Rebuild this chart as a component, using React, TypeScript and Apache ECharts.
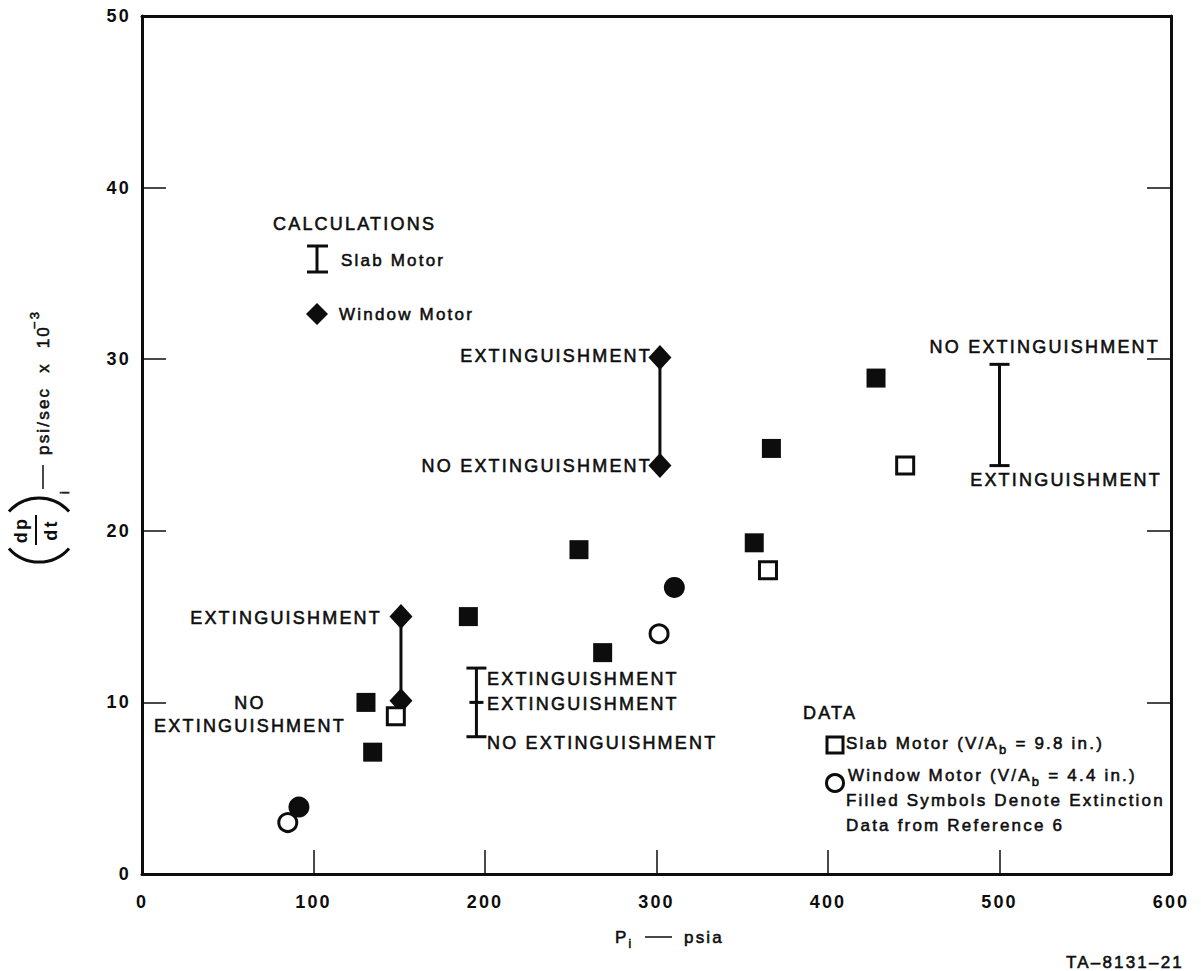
import React, { useEffect, useRef } from 'react';
import * as echarts from 'echarts';

// ---- axis ticks ----
const xTicks = [0, 100, 200, 300, 400, 500, 600];
const yTicks = [0, 10, 20, 30, 40, 50];

// ---- measured data: [P_i (psia), (dp/dt)_i x 10^-3 (psi/sec)] ----
// Slab motor (V/Ab = 9.8 in.)
const slabOpen: number[][] = [[148, 9.2], [365, 17.7], [445, 23.8]];
// Slab motor, extinction data from Reference 6 (filled)
const slabFilled: number[][] = [
  [130.6, 10.0], [134.5, 7.1], [190.3, 15.0], [254.8, 18.9],
  [268.6, 12.9], [357, 19.3], [367, 24.8], [428, 28.9],
];
// Window motor (V/Ab = 4.4 in.)
const windowOpen: number[][] = [[85, 3.0], [301.5, 14.0]];
// Window motor, extinction data from Reference 6 (filled)
const windowFilled: number[][] = [[91.5, 3.9], [310.4, 16.7]];

// Calculations, window motor: upper / lower diamond pairs
const windowCalc: number[][][] = [
  [[151, 15.0], [151, 10.1]],
  [[302, 30.1], [302, 23.8]],
];
// Calculations, slab motor: [P_i, low, high] with optional middle mark
const slabCalc: number[][] = [[195, 8.0, 12.0], [500, 23.8, 29.7]];
const slabCalcMid: (number | null)[] = [10.0, null];

const INK = '#0d0d0d';
const FONT = '"Liberation Sans", Arial, Helvetica, sans-serif';
const LS = 2.2;
const HEAVY = 0.55; // extra glyph stroke for a medium-weight look

let measureCtx: CanvasRenderingContext2D | null = null;
function textWidth(s: string, size: number): number {
  if (!measureCtx) measureCtx = document.createElement('canvas').getContext('2d');
  const c = measureCtx!;
  c.font = `${size}px ${FONT}`;
  return c.measureText(s).width + s.length * LS;
}

function txt(text: string, x: number, y: number, size: number, align = 'left', extra: any = {}) {
  return {
    type: 'text',
    silent: true,
    style: {
      text, x, y,
      fill: INK,
      stroke: INK,
      lineWidth: HEAVY,
      fontSize: size,
      fontFamily: FONT,
      align, verticalAlign: 'middle',
      textAlign: align, textVerticalAlign: 'middle',
      ...extra,
    },
  };
}

// lay out text runs one after another (for subscripts / superscripts)
type Run = { t: string; size: number; dy?: number; gap?: number };
function runs(x: number, y: number, parts: Run[]) {
  const out: any[] = [];
  let cx = x;
  for (const p of parts) {
    cx += p.gap || 0;
    out.push(txt(p.t, cx, y + (p.dy || 0), p.size));
    cx += textWidth(p.t, p.size);
  }
  return out;
}

export default function App() {
  const ref = useRef<HTMLDivElement>(null);

  useEffect(() => {
    const el = ref.current!;
    const chart = echarts.init(el, null, { renderer: 'svg' });

    const axisLine = { show: true, onZero: false, lineStyle: { color: INK, width: 3 } };
    const tick = { show: true, inside: true, length: 24, lineStyle: { color: INK, width: 1.5 } };
    const label = { color: INK, fontSize: 18, fontFamily: FONT, fontWeight: 'bold' as const };

    const big = 18; // upper-case annotations
    const sm = 17; // mixed-case text
    const line = (x1: number, y1: number, x2: number, y2: number, w = 3) => ({
      type: 'line', silent: true,
      shape: { x1, y1, x2, y2 },
      style: { stroke: INK, lineWidth: w },
    });

    // rotated y-axis title: ( dp/dt )_i — psi/sec x 10^-3
    const R = 40;
    const half = 0.85;
    const yTitle = {
      type: 'group', x: 43, y: 567, rotation: Math.PI / 2, silent: true,
      children: [
        { type: 'arc', shape: { cx: 5 + R, cy: -4, r: R, startAngle: Math.PI - half, endAngle: Math.PI + half }, style: { stroke: INK, lineWidth: 3, fill: 'none' } },
        { type: 'arc', shape: { cx: 69 - R, cy: -4, r: R, startAngle: -half, endAngle: half }, style: { stroke: INK, lineWidth: 3, fill: 'none' } },
        txt('dp', 37, -22, 18, 'center', { fontWeight: 'bold', lineWidth: 0 }),
        line(22, -7, 52, -7, 2),
        txt('dt', 37, 8, 18, 'center', { fontWeight: 'bold', lineWidth: 0 }),
        txt('i', 73, 22, 12, 'left'),
        line(78, 0, 102, 0, 1.5),
        txt('psi/sec  x  10', 112, 0, 17, 'left'),
        txt('\u22123', 238, -9, 13, 'left'),
      ],
    };

    const graphic: any[] = [
      yTitle,
      // x-axis title
      ...runs(615, 937, [
        { t: 'P', size: sm },
        { t: 'i', size: 12, dy: 7 },
      ]),
      line(645, 937, 672, 937, 1.5),
      txt('psia', 684, 937, sm),
      txt('TA\u20138131\u201321', 1184, 962, sm, 'right'),

      // calculations key
      txt('CALCULATIONS', 273, 224, big),
      line(317, 246, 317, 272),
      line(307, 246, 328, 246),
      line(307, 272, 328, 272),
      txt('Slab Motor', 341, 260, sm),
      { type: 'polygon', silent: true, shape: { points: [[317, 303], [328, 314], [317, 325], [306, 314]] }, style: { fill: INK } },
      txt('Window Motor', 339, 314, sm),

      // annotations on the calculated points
      txt('EXTINGUISHMENT', 652, 356, big, 'right'),
      txt('NO EXTINGUISHMENT', 652, 466, big, 'right'),
      txt('EXTINGUISHMENT', 382, 618, big, 'right'),
      txt('NO\nEXTINGUISHMENT', 250, 714, big, 'center', { lineHeight: 23 }),
      txt('EXTINGUISHMENT', 487, 679, big),
      txt('EXTINGUISHMENT', 487, 704, big),
      txt('NO EXTINGUISHMENT', 487, 743, big),
      txt('NO EXTINGUISHMENT', 1160, 347, big, 'right'),
      txt('EXTINGUISHMENT', 1162, 480, big, 'right'),

      // data key
      txt('DATA', 803, 713, big),
      { type: 'rect', silent: true, shape: { x: 827, y: 737, width: 16, height: 16 }, style: { fill: '#fff', stroke: INK, lineWidth: 3 } },
      ...runs(846, 743, [
        { t: 'Slab Motor (V/A', size: sm },
        { t: 'b', size: 13, dy: 6 },
        { t: '= 9.8 in.)', size: sm, gap: 7 },
      ]),
      { type: 'circle', silent: true, shape: { cx: 835, cy: 783, r: 8.5 }, style: { fill: '#fff', stroke: INK, lineWidth: 3 } },
      ...runs(848, 775, [
        { t: 'Window Motor (V/A', size: sm },
        { t: 'b', size: 13, dy: 6 },
        { t: '= 4.4 in.)', size: sm, gap: 7 },
      ]),
      txt('Filled Symbols Denote Extinction', 846, 800, sm),
      txt('Data from Reference 6', 846, 825, sm),
    ];

    const solid = { color: INK, opacity: 1 };
    const hollow = { color: '#fff', borderColor: INK, borderWidth: 3, opacity: 1 };

    const option: any = {
      animation: false,
      backgroundColor: '#fff',
      grid: { left: 142, top: 16, width: 1029, height: 858, containLabel: false },
      xAxis: [
        {
          type: 'value', position: 'bottom', min: 0, max: 600, interval: 100,
          axisLine, axisTick: tick, splitLine: { show: false },
          axisLabel: { ...label, margin: 19, formatter: (v: number) => String(xTicks[xTicks.indexOf(v)] ?? v) },
        },
        {
          type: 'value', position: 'top', min: 0, max: 600, interval: 100,
          axisLine, axisTick: { show: false }, axisLabel: { show: false }, splitLine: { show: false },
        },
      ],
      yAxis: [
        {
          type: 'value', position: 'left', min: 0, max: 50, interval: 10,
          axisLine, axisTick: tick, splitLine: { show: false },
          axisLabel: { ...label, margin: 11, formatter: (v: number) => String(yTicks[yTicks.indexOf(v)] ?? v) },
        },
        {
          type: 'value', position: 'right', min: 0, max: 50, interval: 10,
          axisLine, axisTick: tick, axisLabel: { show: false }, splitLine: { show: false },
        },
      ],
      series: [
        ...windowCalc.map((pair) => ({
          type: 'line', data: pair, symbol: 'diamond', symbolSize: [23, 25],
          lineStyle: { color: INK, width: 3, opacity: 1 }, itemStyle: solid, silent: true, z: 2,
        })),
        {
          type: 'custom', data: slabCalc, silent: true, z: 2,
          encode: { x: 0, y: [1, 2] },
          renderItem: (params: any, api: any) => {
            const x = api.value(0);
            const top = api.coord([x, api.value(2)]);
            const bot = api.coord([x, api.value(1)]);
            const style = { stroke: INK, lineWidth: 3, fill: 'none' };
            const cap = 10;
            const children: any[] = [
              { type: 'line', shape: { x1: top[0], y1: top[1], x2: bot[0], y2: bot[1] }, style },
              { type: 'line', shape: { x1: top[0] - cap, y1: top[1], x2: top[0] + cap, y2: top[1] }, style },
              { type: 'line', shape: { x1: bot[0] - cap, y1: bot[1], x2: bot[0] + cap, y2: bot[1] }, style },
            ];
            const mid = slabCalcMid[params.dataIndex];
            if (mid != null) {
              const m = api.coord([x, mid]);
              children.push({ type: 'line', shape: { x1: m[0] - 7, y1: m[1], x2: m[0] + 7, y2: m[1] }, style });
            }
            return { type: 'group', children };
          },
        },
        { type: 'scatter', data: windowOpen, symbol: 'circle', symbolSize: 18, itemStyle: hollow, silent: true, z: 3 },
        { type: 'scatter', data: windowFilled, symbol: 'circle', symbolSize: 21, itemStyle: solid, silent: true, z: 4 },
        { type: 'scatter', data: slabFilled, symbol: 'rect', symbolSize: 19, itemStyle: solid, silent: true, z: 4 },
        { type: 'scatter', data: slabOpen, symbol: 'rect', symbolSize: 17, itemStyle: hollow, silent: true, z: 5 },
      ],
      graphic,
    };

    chart.setOption(option);
    return () => chart.dispose();
  }, []);

  return (
    <>
      <style>{`#fig text { letter-spacing: ${LS}px; }`}</style>
      <div
        id="fig"
        ref={ref}
        style={{ position: 'absolute', left: 0, top: 0, width: 1201, height: 971, background: '#fff' }}
      />
    </>
  );
}
